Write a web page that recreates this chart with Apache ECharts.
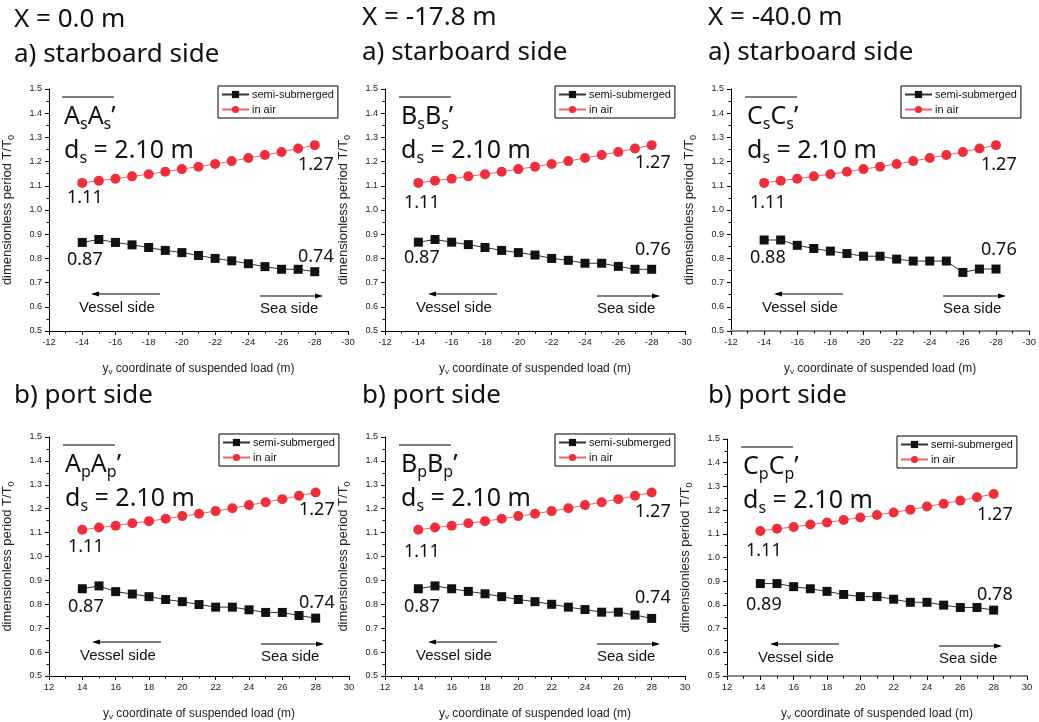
<!DOCTYPE html>
<html><head><meta charset="utf-8">
<script src="https://cdn.jsdelivr.net/npm/echarts@6/dist/echarts.min.js"></script>
<style>html,body{margin:0;padding:0;background:#fff}#c{width:1039px;height:722px}</style>
</head><body><div id="c"></div>
<script>
// ---------- data ----------
const yvStarboard = [-14,-15,-16,-17,-18,-19,-20,-21,-22,-23,-24,-25,-26,-27,-28];
const yvPort = [14,15,16,17,18,19,20,21,22,23,24,25,26,27,28];
const inAir = [1.112,1.121,1.129,1.139,1.148,1.158,1.169,1.179,1.190,1.202,1.215,1.227,1.240,1.254,1.268];
const semiAs = [0.866,0.878,0.866,0.856,0.845,0.833,0.824,0.812,0.800,0.790,0.778,0.766,0.755,0.755,0.745];
const semiBs = [0.867,0.878,0.867,0.857,0.845,0.833,0.824,0.814,0.800,0.792,0.780,0.780,0.767,0.755,0.755];
const semiCs = [0.876,0.876,0.854,0.841,0.830,0.820,0.809,0.809,0.797,0.789,0.789,0.789,0.742,0.756,0.756];
const semiAp = [0.865,0.877,0.853,0.843,0.832,0.820,0.811,0.799,0.788,0.788,0.777,0.766,0.766,0.753,0.742];
const semiBp = [0.865,0.877,0.865,0.854,0.844,0.832,0.820,0.811,0.800,0.788,0.778,0.767,0.767,0.755,0.741];
const semiCp = [0.890,0.890,0.877,0.868,0.857,0.844,0.835,0.835,0.824,0.811,0.811,0.799,0.789,0.789,0.778];
const columnTitles = ['X = 0.0 m','X = -17.8 m','X = -40.0 m'];
const rowTitles = ['a) starboard side','b) port side'];
const sectionLetters = ['A','B','C','A','B','C'];
const sectionSubs = ['s','s','s','p','p','p'];
const airStartLabels = ['1.11','1.11','1.11','1.11','1.11','1.11'];
const airEndLabels = ['1.27','1.27','1.27','1.27','1.27','1.27'];
const semiStartLabels = ['0.87','0.87','0.88','0.87','0.87','0.89'];
const semiEndLabels = ['0.74','0.76','0.76','0.74','0.74','0.78'];
const depthLabel = '2.10 m';
const seriesNames = ['semi-submerged','in air'];
const xName = 'coordinate of suspended load (m)';
const yName = 'dimensionless period T/T';

// ---------- layout ----------
const semis = [semiAs,semiBs,semiCs,semiAp,semiBp,semiCp];
const geo = [
  {gx:48, gy:89,  aS:109, aE:76, sS:171, sE:168},
  {gx:385, gy:89, aS:114, aE:74, sS:169, sE:161},
  {gx:731, gy:89, aS:114, aE:76, sS:169, sE:161},
  {gx:49, gy:437, aS:110, aE:73, sS:170, sE:166},
  {gx:385, gy:437, aS:115, aE:75, sS:170, sE:161},
  {gx:727, gy:439, aS:112, aE:76, sS:166, sE:156}
];
const GW = 300, GH = 242;
const tickFont = "'Liberation Sans Narrow','Liberation Sans',sans-serif";
const bigFont = "'Noto Sans',sans-serif";

const grids = [], xAxes = [], yAxes = [], series = [], legends = [], graphics = [];

geo.forEach((g, i) => {
  const top = i < 3;
  grids.push({left:g.gx, top:g.gy, width:GW, height:GH});
  const grey = (i === 2 || i === 5);
  xAxes.push({
    type:'value', gridIndex:i, min: top ? -30 : 12, max: top ? -12 : 30, interval:2,
    inverse: top,
    name: '{v|y}{s|v} ' + xName, nameLocation:'middle', nameGap:30,
    nameTextStyle:{color:'#222', fontFamily:tickFont, fontSize:12,
      rich:{v:{fontSize:12, fontFamily:tickFont, color:'#222'}, s:{fontSize:8, fontFamily:tickFont, color:'#222', padding:[7,0,0,0]}}},
    axisLine:{show:true, onZero:false, lineStyle:{color: grey ? '#888' : '#000', width: grey ? 2 : 1}},
    axisTick:{show:true, length:4, lineStyle:{color:'#000'}},
    minorTick:{show:true, splitNumber:2, length:2.5, lineStyle:{color:'#000'}},
    axisLabel:{fontSize:9.5, color:'#222', margin:6, fontFamily:tickFont},
    splitLine:{show:false}
  });
  yAxes.push({
    type:'value', gridIndex:i, min:0.5, max:1.5, interval:0.1,
    name: yName + '{s|0}', nameLocation:'middle', nameGap:33, nameRotate:90,
    nameTextStyle:{color:'#222', fontFamily:tickFont, fontSize:13,
      rich:{s:{fontSize:9, fontFamily:tickFont, color:'#222', padding:[8,0,0,0]}}},
    axisLine:{show:true, onZero:false, lineStyle:{color:'#000'}},
    axisTick:{show:true, length:4, lineStyle:{color:'#000'}},
    minorTick:{show:true, splitNumber:2, length:2.5, lineStyle:{color:'#000'}},
    axisLabel:{fontSize:9, color:'#222', margin:7, fontFamily:tickFont, formatter:v => v.toFixed(1)},
    splitLine:{show:false}
  });
  const xs = top ? yvStarboard : yvPort;
  series.push({
    name:seriesNames[0], type:'line', xAxisIndex:i, yAxisIndex:i,
    data: xs.map((x,k) => [x, semis[i][k]]),
    symbol:'rect', symbolSize:9, lineStyle:{color:'#333', width:1},
    itemStyle:{color:'#111'}, animation:false
  });
  series.push({
    name:seriesNames[1], type:'line', xAxisIndex:i, yAxisIndex:i,
    data: xs.map((x,k) => [x, inAir[k]]),
    symbol:'circle', symbolSize:10, lineStyle:{color:'#f0616a', width:1},
    itemStyle:{color:'#ee2f3b'}, animation:false
  });
  legends.push({
    orient:'vertical', left:g.gx+170, top:g.gy-3, data:seriesNames,
    borderColor:'#000', borderWidth:1, padding:[3,4,3,3], itemGap:4,
    itemWidth:27, itemHeight:9, selectedMode:false,
    textStyle:{fontSize:11, color:'#111', fontFamily:tickFont, padding:[0,0,0,-2]}
  });

  const gx = g.gx, gy = g.gy;
  const L = sectionLetters[i], S = sectionSubs[i];
  const lblFont = '18px ' + bigFont;
  graphics.push(
    {type:'line', shape:{x1:gx+14, y1:gy+8, x2:gx+66, y2:gy+8}, style:{stroke:'#000', lineWidth:1}},
    {type:'text', x:gx+16, y:gy+28, style:{text:'{b|'+L+'}{s|'+S+'}{b|'+L+'}{s|'+S+'}{b|’}',
      textVerticalAlign:'middle', textAlign:'left',
      rich:{b:{fontSize:25, fontFamily:bigFont, fill:'#111'}, s:{fontSize:16, fontFamily:bigFont, fill:'#111', padding:[14,0,0,0]}}}},
    {type:'text', x:gx+16, y:gy+62, style:{text:'{b|d}{s|s}{b| = '+depthLabel+'}',
      textVerticalAlign:'middle', textAlign:'left',
      rich:{b:{fontSize:25, fontFamily:bigFont, fill:'#111'}, s:{fontSize:16, fontFamily:bigFont, fill:'#111', padding:[14,0,0,0]}}}},
    {type:'text', x:gx+19, y:gy+g.aS, style:{text:airStartLabels[i], font:lblFont, fill:'#111', textVerticalAlign:'middle'}},
    {type:'text', x:gx+250, y:gy+g.aE, style:{text:airEndLabels[i], font:lblFont, fill:'#111', textVerticalAlign:'middle'}},
    {type:'text', x:gx+19, y:gy+g.sS, style:{text:semiStartLabels[i], font:lblFont, fill:'#111', textVerticalAlign:'middle'}},
    {type:'text', x:gx+250, y:gy+g.sE, style:{text:semiEndLabels[i], font:lblFont, fill:'#111', textVerticalAlign:'middle'}},
    {type:'line', shape:{x1:gx+45, y1:gy+205, x2:gx+112, y2:gy+205}, style:{stroke:'#000', lineWidth:1}},
    {type:'polygon', shape:{points:[[gx+43,gy+205],[gx+51,gy+202.5],[gx+51,gy+207.5]]}, style:{fill:'#000'}},
    {type:'text', x:gx+31, y:gy+219, style:{text:'Vessel side', font:'15px '+tickFont, fill:'#111', textVerticalAlign:'middle'}},
    {type:'line', shape:{x1:gx+212, y1:gy+207, x2:gx+273, y2:gy+207}, style:{stroke:'#000', lineWidth:1}},
    {type:'polygon', shape:{points:[[gx+275,gy+207],[gx+267,gy+204.5],[gx+267,gy+209.5]]}, style:{fill:'#000'}},
    {type:'text', x:gx+212, y:gy+220, style:{text:'Sea side', font:'15px '+tickFont, fill:'#111', textVerticalAlign:'middle'}}
  );
});

const colX = [14, 362, 708];
const colTitleY = [20, 18, 18];
const rowAY = [55, 53, 53];
colX.forEach((x, c) => {
  graphics.push(
    {type:'text', x:x, y:colTitleY[c], style:{text:columnTitles[c], font:'26px '+bigFont, fill:'#111', textVerticalAlign:'middle'}},
    {type:'text', x:x, y:rowAY[c], style:{text:rowTitles[0], font:'26px '+bigFont, fill:'#111', textVerticalAlign:'middle'}},
    {type:'text', x:x, y:396, style:{text:rowTitles[1], font:'26px '+bigFont, fill:'#111', textVerticalAlign:'middle'}}
  );
});

const chart = echarts.init(document.getElementById('c'));
chart.setOption({
  backgroundColor:'#fff',
  animation:false,
  grid:grids, xAxis:xAxes, yAxis:yAxes, series:series, legend:legends,
  graphic:graphics
});
</script></body></html>
